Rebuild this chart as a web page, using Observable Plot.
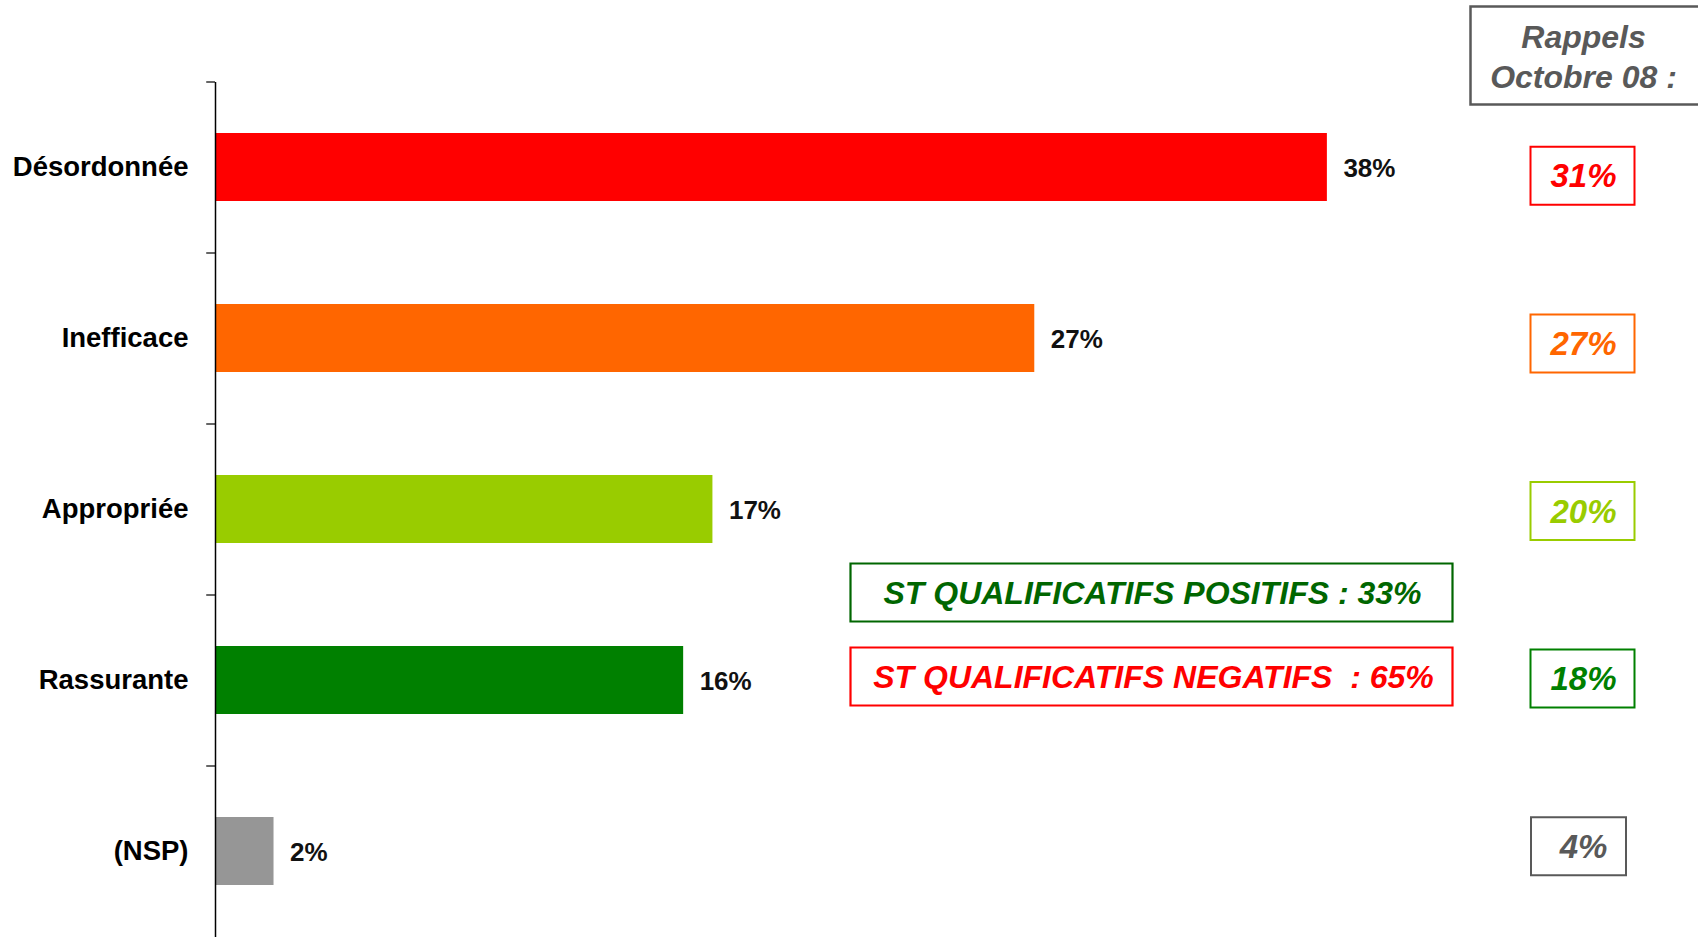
<!DOCTYPE html>
<html><head><meta charset="utf-8">
<script src="https://cdn.jsdelivr.net/npm/d3@7"></script>
<script src="https://cdn.jsdelivr.net/npm/@observablehq/plot@0.6"></script>
<style>
html,body{margin:0;padding:0;background:#fff;}
svg text{white-space:pre;}
</style></head><body><div id="chart"></div>
<script>
const categories = ["Désordonnée","Inefficace","Appropriée","Rassurante","(NSP)"];
const values = [38, 28, 17, 16, 2];
const valueLabels = ["38%","27%","17%","16%","2%"];
const barColors = ["#FF0000","#FF6600","#99CC00","#008000","#969696"];
const rappels = ["31%","27%","20%","18%","4%"];
const rappelColors = ["#FF0000","#FF6600","#99CC00","#008000","#595959"];
const rappelsTitle = "Rappels\nOctobre 08 :";
const totals = ["ST QUALIFICATIFS POSITIFS : 33%", "ST QUALIFICATIFS NEGATIFS  : 65%"];
const totalColors = ["#006600","#FF0000"];

const rows = categories.map((c, i) => ({
  cat: c, value: values[i], label: valueLabels[i], color: barColors[i],
  rappel: rappels[i], rcolor: rappelColors[i], idx: i
}));

const rectSymbol = (w, h) => ({draw(ctx) { ctx.rect(-w / 2, -h / 2, w, h); }});
const FONT = "'Liberation Sans', Arial, Helvetica, sans-serif";

// the "Rappels" column is spaced slightly tighter than the bars
const rappelMarks = rows.flatMap((d, i) => {
  const dy = 1.5 - (i - 2) * 3.4;
  const wide = d.rappel.length > 2;
  return [
    Plot.dot([d], {y: "cat", frameAnchor: "right", dx: wide ? -96 : -100, dy, symbol: rectSymbol(wide ? 104 : 95, 58), fill: "none", stroke: "rcolor", strokeWidth: 2}),
    Plot.text([d], {y: "cat", frameAnchor: "right", dx: -95, dy: dy + 1, text: "rappel", fill: "rcolor", fontSize: 33, fontWeight: "bold", fontStyle: "italic", textAnchor: "middle"})
  ];
});

const plot = Plot.plot({
  width: 1698, height: 937,
  marginLeft: 215, marginRight: 20, marginTop: 82, marginBottom: 0,
  style: {fontFamily: FONT, background: "#fff", overflow: "visible"},
  x: {domain: [0, 50], axis: null},
  y: {domain: categories, axis: null, paddingInner: 0.6, paddingOuter: 0.3},
  color: {type: "identity"},
  marks: [
    Plot.barX(rows, {y: "cat", x: "value", fill: "color"}),
    Plot.ruleX([0], {stroke: "#000", strokeWidth: 1.5}),
    Plot.ruleY(rows, {y: "cat", x1: -0.3, x2: 0, dy: -85.5, stroke: "#000", strokeWidth: 1.2}),
    Plot.text(rows, {y: "cat", x: 0, text: "cat", textAnchor: "end", dx: -27, fontSize: 27.5, fontWeight: "bold", fill: "#000"}),
    Plot.text(rows, {y: "cat", x: "value", text: "label", textAnchor: "start", dx: 16, dy: 1, fontSize: 26, fontWeight: "bold", fill: "#111"}),
    // Rappels header
    Plot.dot([rappelsTitle], {frameAnchor: "top-right", dx: -93, dy: -27, symbol: rectSymbol(230, 98), fill: "#fff", stroke: "#595959", strokeWidth: 2.5}),
    Plot.text([rappelsTitle], {frameAnchor: "top-right", dx: -95, dy: -27, text: d => d, fontSize: 32, fontWeight: "bold", fontStyle: "italic", fill: "#595959", lineHeight: 1.22, lineAnchor: "middle", textAnchor: "middle"}),
    ...rappelMarks,
    // ST totals
    Plot.dot([totals[0]], {frameAnchor: "top-left", dx: 936, dy: 510, symbol: rectSymbol(602, 58), fill: "#fff", stroke: totalColors[0], strokeWidth: 2.2}),
    Plot.text([totals[0]], {frameAnchor: "top-left", dx: 937, dy: 511, text: d => d, fill: totalColors[0], fontSize: 32, fontWeight: "bold", fontStyle: "italic", textAnchor: "middle", lineAnchor: "middle"}),
    Plot.dot([totals[1]], {frameAnchor: "top-left", dx: 936, dy: 594, symbol: rectSymbol(602, 58), fill: "#fff", stroke: totalColors[1], strokeWidth: 2.2}),
    Plot.text([totals[1]], {frameAnchor: "top-left", dx: 938, dy: 595, text: d => d, fill: totalColors[1], fontSize: 32, fontWeight: "bold", fontStyle: "italic", textAnchor: "middle", lineAnchor: "middle"})
  ]
});
document.getElementById("chart").appendChild(plot);
</script>
</body></html>
